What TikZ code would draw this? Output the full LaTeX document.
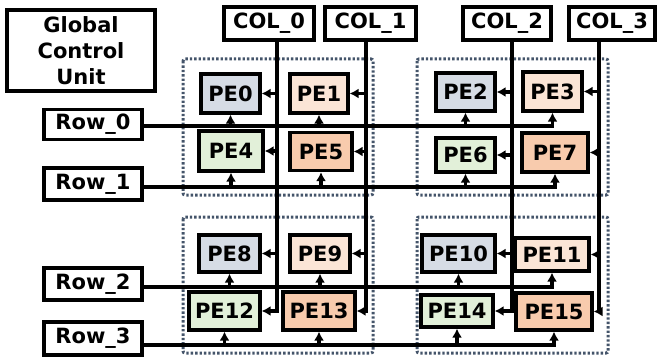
\documentclass[tikz,border=0pt]{standalone}
\definecolor{peblue}{HTML}{D6DCE5}
\definecolor{pepeach}{HTML}{FBE5D6}
\definecolor{pegreen}{HTML}{E2F0D9}
\definecolor{peorange}{HTML}{F8CBAD}
\definecolor{slate}{HTML}{44546A}
\usepackage{fontspec}
\setmainfont{DejaVu Sans}
\usepackage{tikz}
\usetikzlibrary{calc, arrows.meta}

\begin{document}
\begin{tikzpicture}[x=1pt, y=-1pt,
  box/.style={draw, line width=3.2pt, inner sep=0pt, font=\fontsize{21}{26}\selectfont\bfseries},
  wire/.style={line width=3.2pt},
  feed/.style={wire, -{Latex[length=9pt, width=10pt]}},
  tile/.style={slate, line width=3pt, dash pattern=on 2.4pt off 2pt, rounded corners=2pt}]
  \useasboundingbox (0,0) rectangle (657,361);

  % dotted tiles
  \draw[tile] (183,59) rectangle (373,195);
  \draw[tile] (417,59) rectangle (608,195);
  \draw[tile] (183,217) rectangle (373,353);
  \draw[tile] (417,217) rectangle (608,353);

  \node[box, minimum width=148pt, minimum height=81pt, align=center] (gcu) at (81,50.5) {Global\\Control\\Unit};

  \node[box, minimum width=90pt, minimum height=33pt] (col0) at (269,23.5) {COL\_0};
  \node[box, minimum width=91pt, minimum height=33pt] (col1) at (370.5,23.5) {COL\_1};
  \node[box, minimum width=88pt, minimum height=33pt] (col2) at (507,23.5) {COL\_2};
  \node[box, minimum width=86pt, minimum height=33pt] (col3) at (612,23.5) {COL\_3};

  \node[box, minimum width=98pt, minimum height=30pt] (row0) at (93,124.5) {Row\_0};
  \node[box, minimum width=98pt, minimum height=32pt] (row1) at (93,184) {Row\_1};
  \node[box, minimum width=98pt, minimum height=32pt] (row2) at (93,284) {Row\_2};
  \node[box, minimum width=98pt, minimum height=33pt] (row3) at (93,338.5) {Row\_3};

  % processing elements
  \node[box, fill=peblue, minimum width=59pt, minimum height=39pt] (pe0) at (230.5,93.5) {PE0};
  \node[box, fill=pepeach, minimum width=58pt, minimum height=39pt] (pe1) at (319,93.5) {PE1};
  \node[box, fill=peblue, minimum width=59pt, minimum height=38pt] (pe2) at (465.5,92) {PE2};
  \node[box, fill=pepeach, minimum width=59pt, minimum height=39pt] (pe3) at (552.5,91.5) {PE3};

  \node[box, fill=pegreen, minimum width=64pt, minimum height=40pt] (pe4) at (231,151) {PE4};
  \node[box, fill=peorange, minimum width=62pt, minimum height=38pt] (pe5) at (321,151.5) {PE5};
  \node[box, fill=pegreen, minimum width=59pt, minimum height=34pt] (pe6) at (465.5,155) {PE6};
  \node[box, fill=peorange, minimum width=66pt, minimum height=39pt] (pe7) at (555,152.5) {PE7};

  \node[box, fill=peblue, minimum width=61pt, minimum height=37pt] (pe8) at (229.5,253.5) {PE8};
  \node[box, fill=pepeach, minimum width=60pt, minimum height=37pt] (pe9) at (320,253.5) {PE9};
  \node[box, fill=peblue, minimum width=73pt, minimum height=37pt] (pe10) at (458.5,253.5) {PE10};
  \node[box, fill=pepeach, minimum width=74pt, minimum height=33pt] (pe11) at (552,254.5) {PE11};

  \node[box, fill=pegreen, minimum width=71pt, minimum height=38pt] (pe12) at (224.5,311) {PE12};
  \node[box, fill=peorange, minimum width=72pt, minimum height=38pt] (pe13) at (319,311) {PE13};
  \node[box, fill=pegreen, minimum width=72pt, minimum height=32pt] (pe14) at (457,311) {PE14};
  \node[box, fill=peorange, minimum width=76pt, minimum height=37pt] (pe15) at (554,311.5) {PE15};

  % column buses
  \coordinate (c0) at ([xshift=8pt]col0.south);
  \coordinate (c1) at ([xshift=-4.5pt]col1.south);
  \coordinate (c2) at ([xshift=5pt]col2.south);
  \coordinate (c3) at ([xshift=-13pt]col3.south);

  \draw[feed] (c0) |- (pe12.east);
  \draw[feed] (c0 |- pe0.east) -- (pe0.east);
  \draw[feed] (c0 |- pe4.east) -- (pe4.east);
  \draw[feed] (c0 |- pe8.east) -- (pe8.east);

  \draw[feed] (c1) |- (pe13.east);
  \draw[feed] (c1 |- pe1.east) -- (pe1.east);
  \draw[feed] (c1 |- pe5.east) -- (pe5.east);
  \draw[feed] (c1 |- pe9.east) -- (pe9.east);

  \draw[feed] (c2) |- (pe14.east);
  \draw[feed] (c2 |- pe2.east) -- (pe2.east);
  \draw[feed] (c2 |- pe6.east) -- (pe6.east);
  \draw[feed] (c2 |- pe10.east) -- (pe10.east);

  \draw[feed] (c3) |- (pe15.east);
  \draw[feed] (c3 |- pe3.east) -- (pe3.east);
  \draw[feed] (c3 |- pe7.east) -- (pe7.east);
  \draw[feed] (c3 |- pe11.east) -- (pe11.east);

  % row buses
  \coordinate (r0) at ([yshift=-1.5pt]row0.east);
  \coordinate (r1) at ([yshift=-3pt]row1.east);
  \coordinate (r2) at ([yshift=-3pt]row2.east);
  \coordinate (r3) at ([yshift=-6.5pt]row3.east);

  \draw[feed] (r0) -| (pe3.south);
  \draw[feed] (r0 -| pe0.south) -- (pe0.south);
  \draw[feed] (r0 -| pe1.south) -- (pe1.south);
  \draw[feed] (r0 -| pe2.south) -- (pe2.south);

  \draw[feed] (r1) -| (pe7.south);
  \draw[feed] (r1 -| pe4.south) -- (pe4.south);
  \draw[feed] (r1 -| pe5.south) -- (pe5.south);
  \draw[feed] (r1 -| pe6.south) -- (pe6.south);

  \draw[feed] (r2) -| (pe11.south);
  \draw[feed] (r2 -| pe8.south) -- (pe8.south);
  \draw[feed] (r2 -| pe9.south) -- (pe9.south);
  \draw[feed] (r2 -| pe10.south) -- (pe10.south);

  \draw[feed] (r3) -| (pe15.south);
  \draw[feed] (r3 -| pe12.south) -- (pe12.south);
  \draw[feed] (r3 -| pe13.south) -- (pe13.south);
  \draw[feed] (r3 -| pe14.south) -- (pe14.south);
\end{tikzpicture}
\end{document}
